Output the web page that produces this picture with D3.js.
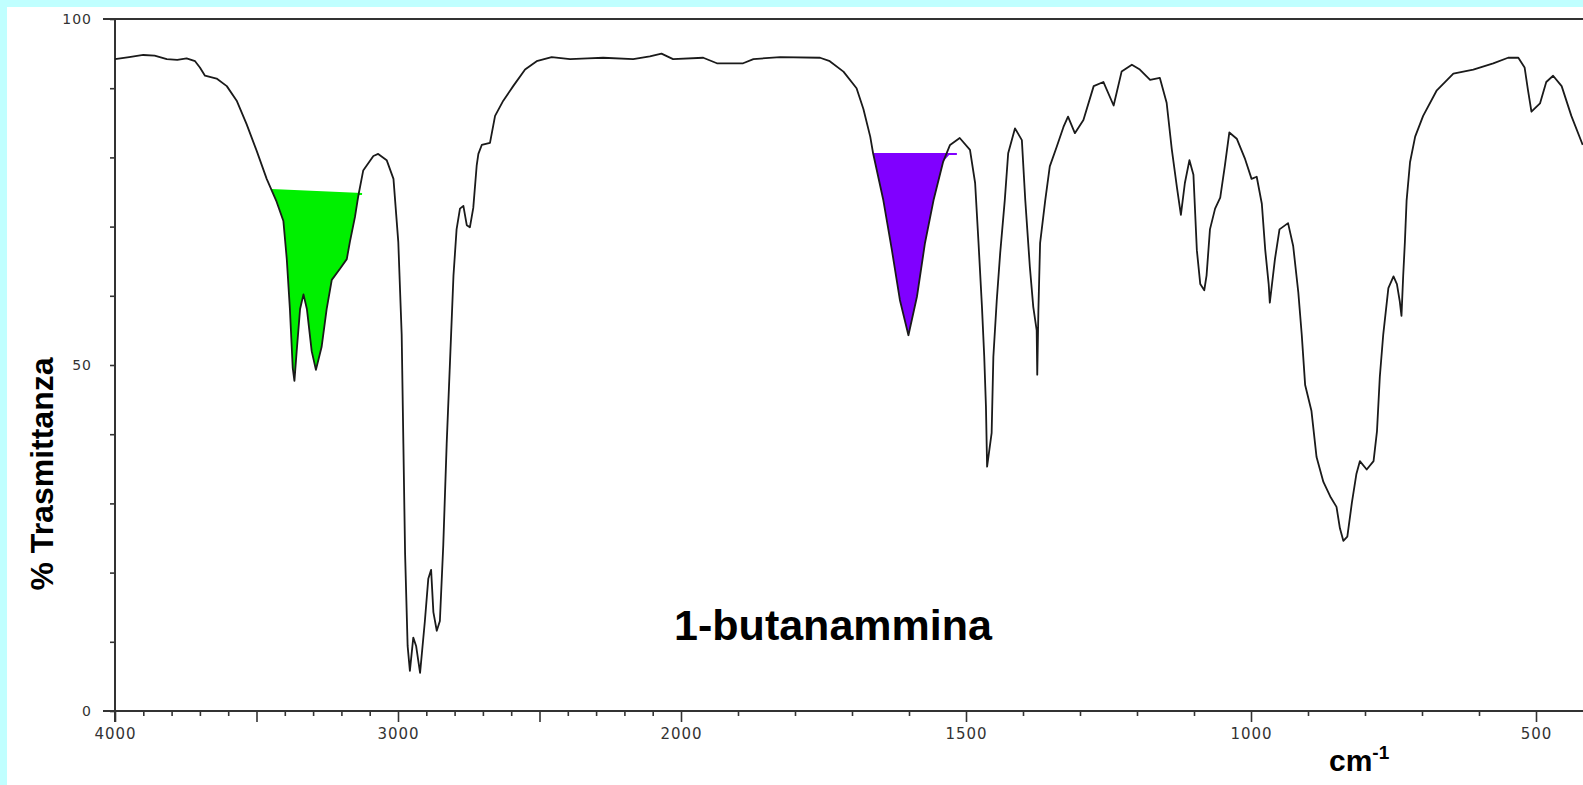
<!DOCTYPE html>
<html>
<head>
<meta charset="utf-8">
<script src="https://cdn.jsdelivr.net/npm/d3@7"></script>
<style>
  html, body { margin: 0; padding: 0; background: #c0ffff; }
  svg { display: block; }
</style>
</head>
<body>
<svg width="1583" height="785"></svg>
<script>
// spettro IR: numero d'onda (cm-1) e % trasmittanza
const WAVENUMBERS = [
  4000, 3950, 3900, 3860, 3817, 3780, 3747, 3717, 3700, 3682, 3641, 3605, 3570, 3535, 3499, 3464,
  3429, 3405, 3393, 3382, 3372, 3366, 3358, 3346, 3334, 3322, 3305, 3290, 3270, 3252, 3234, 3205,
  3181, 3170, 3152, 3140, 3123, 3087, 3070, 3040, 3016, 2999, 2987, 2981, 2975, 2966, 2958, 2946,
  2936, 2922, 2905, 2893, 2883, 2875, 2863, 2852, 2840, 2828, 2816, 2804, 2793, 2781, 2769, 2757,
  2746, 2734, 2722, 2716, 2704, 2675, 2657, 2628, 2593, 2551, 2510, 2457, 2392, 2330, 2275, 2169,
  2110, 2069, 2028, 1961, 1937, 1891, 1873, 1826, 1756, 1739, 1715, 1692, 1680, 1668, 1663, 1645,
  1630, 1616, 1601, 1586, 1572, 1557, 1540, 1528, 1511, 1493, 1484, 1478, 1472, 1468, 1465, 1463,
  1455, 1452, 1446, 1440, 1432, 1426, 1414, 1402, 1396, 1388, 1382, 1376, 1375, 1373, 1370, 1361,
  1353, 1341, 1329, 1321, 1309, 1294, 1276, 1259, 1241, 1227, 1209, 1195, 1177, 1160, 1148, 1139,
  1130, 1123, 1116, 1108, 1101, 1095, 1089, 1082, 1078, 1072, 1063, 1054, 1046, 1038, 1025, 1011,
  999, 990, 981, 975, 969, 967, 958, 950, 935, 926, 917, 911, 905, 894, 885, 873,
  861, 850, 844, 838, 831, 823, 815, 809, 797, 785, 779, 774, 768, 759, 750, 744,
  739, 736, 733, 730, 727, 721, 712, 698, 674, 645, 610, 575, 549, 531, 520, 514,
  508, 493, 482, 470, 455, 438, 418
];
const TRANSMITTANCE = [
  94.2, 94.5, 94.8, 94.7, 94.2, 94.1, 94.3, 93.9, 93.0, 91.8, 91.4, 90.3, 88.2, 84.8, 80.9, 76.9,
  73.6, 70.8, 65.3, 58.1, 49.6, 47.7, 52.0, 58.1, 60.2, 58.1, 52.0, 49.3, 52.6, 58.1, 62.3, 63.9,
  65.3, 67.8, 71.4, 74.5, 78.1, 80.2, 80.5, 79.6, 76.9, 67.8, 54.4, 38.6, 22.8, 9.4, 5.8, 10.6,
  9.4, 5.5, 13.0, 19.1, 20.4, 14.3, 11.6, 13.0, 24.0, 38.6, 50.7, 62.9, 69.6, 72.6, 73.0, 70.2,
  69.9, 72.7, 78.8, 80.5, 81.8, 82.1, 86.0, 88.2, 90.3, 92.7, 93.9, 94.5, 94.2, 94.3, 94.4, 94.2,
  94.6, 95.0, 94.2, 94.4, 93.6, 93.6, 94.2, 94.5, 94.4, 93.9, 92.4, 90.0, 87.0, 83.0, 80.6, 73.8,
  66.6, 59.4, 54.3, 59.9, 67.6, 73.8, 79.4, 81.8, 82.8, 81.1, 76.3, 67.6, 58.4, 51.2, 44.0, 35.3,
  40.2, 51.2, 59.4, 66.2, 73.8, 80.6, 84.2, 82.5, 73.8, 64.2, 58.4, 55.0, 48.6, 57.9, 67.6, 73.8,
  78.7, 81.5, 84.4, 85.9, 83.5, 85.4, 90.3, 90.9, 87.5, 92.4, 93.4, 92.7, 91.2, 91.5, 87.9, 81.2,
  75.7, 71.7, 76.3, 79.6, 77.5, 66.6, 61.7, 60.8, 62.9, 69.6, 72.6, 74.2, 78.7, 83.6, 82.7, 79.9,
  76.9, 77.2, 73.3, 66.6, 61.7, 59.0, 65.3, 69.6, 70.5, 67.2, 60.5, 54.4, 47.1, 43.4, 36.7, 33.1,
  31.0, 29.5, 26.4, 24.6, 25.2, 30.1, 34.3, 36.1, 34.9, 36.1, 40.4, 48.3, 54.4, 61.1, 62.8, 61.7,
  59.2, 57.1, 62.9, 67.8, 73.8, 79.3, 83.0, 86.0, 89.7, 92.1, 92.7, 93.6, 94.4, 94.4, 93.0, 89.7,
  86.6, 87.8, 90.9, 91.8, 90.3, 86.0, 81.8
];

// etichette degli assi
const X_LABELS = [4000, 3000, 2000, 1500, 1000, 500];
const X_TICKS = d3.range(4000, 450, -100);
const Y_LABELS = [0, 50, 100];
const Y_TICKS = d3.range(0, 101, 10);

// bande evidenziate (N-H stretching e N-H bending)
const BAND_FROM = [3447, 1663];
const BAND_TO = [3127, 1516];
const BAND_LEVEL_FROM = [75.3, 80.5];
const BAND_LEVEL_TO = [74.7, 80.5];
const BAND_COLORS = ['#00f000', '#8000ff'];

const spectrum = WAVENUMBERS.map((w, i) => ({wn: w, t: TRANSMITTANCE[i]}));

// sotto 2000 cm-1 la scala e' doppia (come negli spettrometri IR)
const xScale = d3.scaleLinear().domain([4000, 2000, 400]).range([115, 681, 1593]);
const yScale = d3.scaleLinear().domain([0, 100]).range([711, 19]);

const svg = d3.select('svg');

svg.append('rect').attr('width', 1583).attr('height', 785).attr('fill', '#c0ffff');
svg.append('rect').attr('x', 7).attr('y', 7).attr('width', 1576).attr('height', 778).attr('fill', '#ffffff');

// trasmittanza interpolata su un numero d'onda qualsiasi
const tAt = wn => {
  for (let i = 1; i < spectrum.length; i++) {
    const a = spectrum[i - 1], b = spectrum[i];
    if (wn <= a.wn && wn >= b.wn) {
      return a.t + (b.t - a.t) * (a.wn - wn) / (a.wn - b.wn);
    }
  }
  return spectrum[spectrum.length - 1].t;
};

// aree colorate sotto la linea di base
BAND_FROM.forEach((from, k) => {
  const to = BAND_TO[k];
  const base = wn => BAND_LEVEL_FROM[k] + (BAND_LEVEL_TO[k] - BAND_LEVEL_FROM[k]) * (from - wn) / (from - to);
  const pts = [from, ...WAVENUMBERS.filter(w => w < from && w > to), to];
  const area = d3.area()
    .x(wn => xScale(wn))
    .y0(wn => yScale(base(wn)))
    .y1(wn => yScale(Math.min(tAt(wn), base(wn))));
  svg.append('path').attr('d', area(pts)).attr('fill', BAND_COLORS[k]);
  svg.append('line')
    .attr('x1', xScale(from)).attr('x2', xScale(to))
    .attr('y1', yScale(base(from))).attr('y2', yScale(base(to)))
    .attr('stroke', BAND_COLORS[k]).attr('stroke-width', 2);
});

// assi
const xAxis = d3.axisBottom(xScale)
  .tickValues(X_TICKS)
  .tickSize(5)
  .tickPadding(12)
  .tickFormat(d => X_LABELS.includes(d) ? d : '');
const gx = svg.append('g').attr('transform', `translate(0,${yScale(0)})`).call(xAxis);
gx.select('.domain').remove();
gx.selectAll('.tick line')
  .attr('y2', d => d % 500 === 0 ? 11 : 5)
  .attr('stroke', '#333').attr('stroke-width', 1.6);
gx.selectAll('.tick text')
  .attr('font-family', 'DejaVu Sans, sans-serif')
  .attr('font-size', 15).attr('letter-spacing', 1).attr('fill', '#333');

const yAxis = d3.axisLeft(yScale)
  .tickValues(Y_TICKS)
  .tickSize(5)
  .tickPadding(18)
  .tickFormat(d => Y_LABELS.includes(d) ? d : '');
const gy = svg.append('g').attr('transform', `translate(${xScale(4000)},0)`).call(yAxis);
gy.select('.domain').remove();
gy.selectAll('.tick line').attr('stroke', '#333').attr('stroke-width', 1.6);
gy.selectAll('.tick text')
  .attr('font-family', 'DejaVu Sans, sans-serif')
  .attr('font-size', 14).attr('letter-spacing', 1).attr('fill', '#333');

// cornice: linee a 0 e 100 e asse sinistro
[0, 100].forEach(v => {
  svg.append('line')
    .attr('x1', xScale(4000) - 12).attr('x2', 1583)
    .attr('y1', yScale(v)).attr('y2', yScale(v))
    .attr('stroke', '#333').attr('stroke-width', 2);
});
svg.append('line')
  .attr('x1', xScale(4000)).attr('x2', xScale(4000))
  .attr('y1', yScale(100)).attr('y2', yScale(0) + 11)
  .attr('stroke', '#333').attr('stroke-width', 2);

// spettro
const line = d3.line().x(d => xScale(d.wn)).y(d => yScale(d.t));
svg.append('path')
  .datum(spectrum)
  .attr('d', line)
  .attr('fill', 'none')
  .attr('stroke', '#1a1a1a')
  .attr('stroke-width', 1.8)
  .attr('stroke-linejoin', 'round');

// testi
const font = 'Liberation Sans, Arial, sans-serif';
svg.append('text')
  .attr('transform', 'translate(41,474) rotate(-90)')
  .attr('dy', '0.36em')
  .attr('text-anchor', 'middle')
  .attr('font-family', font).attr('font-weight', 'bold').attr('font-size', 32)
  .text('% Trasmittanza');

svg.append('text')
  .attr('x', 833).attr('y', 640)
  .attr('text-anchor', 'middle')
  .attr('font-family', font).attr('font-weight', 'bold').attr('font-size', 43)
  .text('1-butanammina');

const unit = svg.append('text')
  .attr('x', 1329).attr('y', 771)
  .attr('font-family', font).attr('font-weight', 'bold').attr('font-size', 30);
unit.append('tspan').text('cm');
unit.append('tspan').attr('dy', -12).attr('font-size', 19).text('-1');
</script>
</body>
</html>
